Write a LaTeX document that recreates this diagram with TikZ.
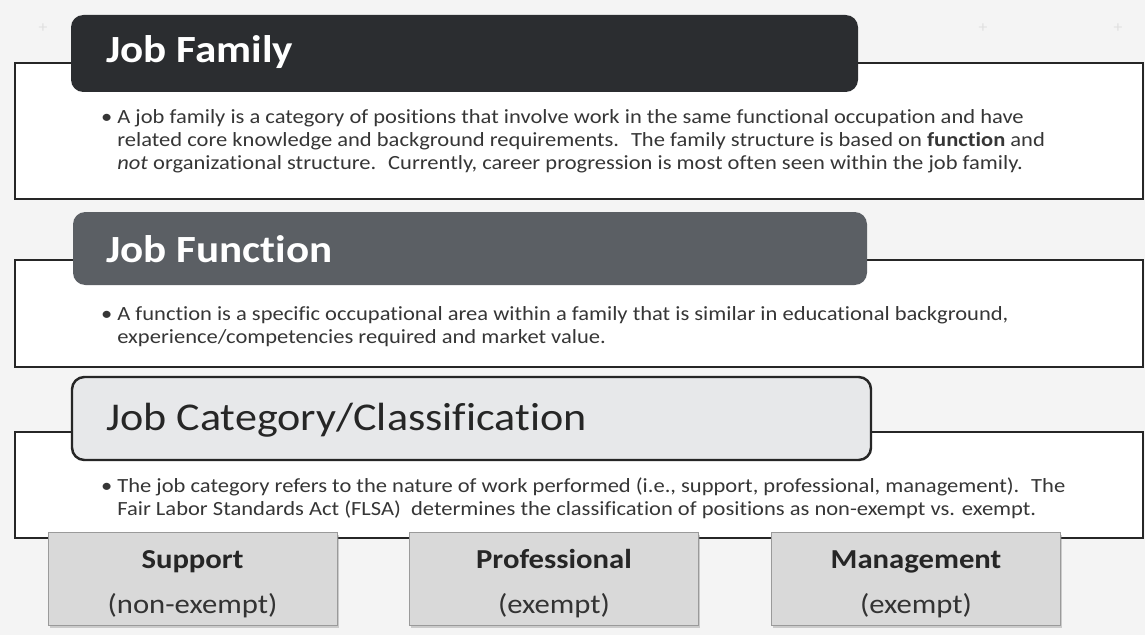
\documentclass[tikz,border=0pt]{standalone}
\usepackage{fontspec}
\setmainfont{Carlito}[FakeStretch=1.12, Ligatures=NoCommon]
\usetikzlibrary{positioning,fit,shadows}
\definecolor{bgcol}{HTML}{F4F4F4}
\definecolor{linecol}{HTML}{262626}
\definecolor{famcol}{HTML}{2B2D30}
\definecolor{funcol}{HTML}{5B5F64}
\definecolor{catcol}{HTML}{E7E8EA}
\definecolor{txtcol}{HTML}{363636}
\definecolor{kindfill}{HTML}{D9D9D9}
\definecolor{kindline}{HTML}{9A9A9A}

\begin{document}
\begin{tikzpicture}[x=0.02cm, y=-0.02cm]
    \tikzset{%
      panel/.style={draw=linecol, line width=1.3pt, fill=white, inner sep=0pt},
      head/.style={rounded corners=7pt, inner sep=0pt},
      title/.style={anchor=base west, inner sep=0pt, font=\fontsize{21.9}{26}\selectfont},
      body/.style={anchor=base west, align=left, inner sep=0pt, text=txtcol,
        font=\fontsize{11.45}{12.9}\selectfont},
      kind/.style={draw=kindline, fill=kindfill, minimum width=5.78cm, minimum height=1.86cm,
        drop shadow={shadow xshift=1pt, shadow yshift=-1.5pt, opacity=0.35}},
      kname/.style={anchor=base, inner sep=0pt, text=black!85, font=\fontsize{15.6}{19}\selectfont\bfseries},
      ksub/.style={anchor=base, inner sep=0pt, text=black!80, font=\fontsize{15.6}{19}\selectfont},
      plusmark/.style={text=black!12, font=\small}
      }
    \fill [bgcol] (0,0) rectangle (1145,635);
    \useasboundingbox (0,0) rectangle (1145,635);

    \node [plusmark] (M1) at (43,28) {+};
    \node [plusmark] (M2) at (983,28) {+};
    \node [plusmark] (M3) at (1118,28) {+};

    \node [panel, fit={(15,63) (1143,199)}] (Pfam) {};
    \node [head, fill=famcol, fit={(71,15) (858,92)}] (Hfam) {};
    \node [title, text=white] (Tfam) at (106,63) {\textbf{Job Family}};
    \node [body] (Bfam) at (117,169) {\llap{\textbullet\ }A job family is a category of positions that involve work in the same functional occupation and have\\
      related core knowledge and background requirements.~ The family structure is based on \textbf{function} and\\
      \textit{not} organizational structure.~ Currently, career progression is most often seen within the job family.};

    \node [panel, fit={(15,260) (1143,367)}] (Pfun) {};
    \node [head, fill=funcol, fit={(73,212) (867,285)}] (Hfun) {};
    \node [title, text=white] (Tfun) at (106,262) {\textbf{Job Function}};
    \node [body] (Bfun) at (117,343) {\llap{\textbullet\ }A function is a specific occupational area within a family that is similar in educational background,\\
      experience/competencies required and market value.};

    \node [panel, fit={(15,432) (1143,538)}] (Pcat) {};
    \node [head, fill=catcol, draw=linecol, line width=1.4pt, fit={(72,377) (871,460)}] (Hcat) {};
    \node [title, text=black!85, font=\fontsize{22.4}{28}\selectfont] (Tcat) at (106,430) {Job Category/Classification};
    \node [body] (Bcat) at (117,515) {\llap{\textbullet\ }The job category refers to the nature of work performed (i.e., support, professional, management).~ The\\
      Fair Labor Standards Act (FLSA)~ determines the classification of positions as non-exempt vs. exempt.};

    \node [kind] (Ksup) at (192.5,578.5) {};
    \node [kname] (Nsup) at (192.5,568) {Support};
    \node [ksub] (Ssup) at (192.5,613) {(non-exempt)};

    \node [kind] (Kpro) at (554,578.5) {};
    \node [kname] (Npro) at (554,568) {Professional};
    \node [ksub] (Spro) at (554,613) {(exempt)};

    \node [kind] (Kman) at (916,578.5) {};
    \node [kname] (Nman) at (916,568) {Management};
    \node [ksub] (Sman) at (916,613) {(exempt)};

  \end{tikzpicture}
\end{document}
